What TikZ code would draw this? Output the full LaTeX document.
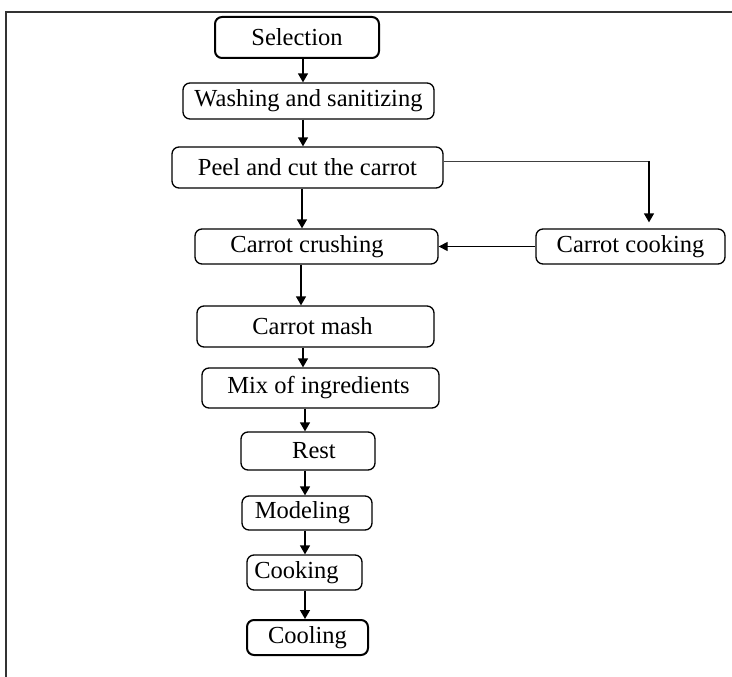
\documentclass[tikz,border=0pt]{standalone}
\usepackage{fontspec}
\setmainfont{Liberation Serif}
\usetikzlibrary{arrows.meta}
\begin{document}
\begin{tikzpicture}[x=1pt,y=-1pt,
  box/.style={draw, rounded corners=7pt, line width=1.3pt, inner sep=0pt,
    font=\fontsize{24.5}{28}\selectfont},
  thickbox/.style={box, line width=2pt},
  arr/.style={line width=1.5pt, -{Triangle[length=9pt,width=10pt]}},
  side/.style={line width=0.9pt, draw=black!75},
  back/.style={line width=1.1pt, -{Triangle[length=9pt,width=9pt]}},
  frame/.style={line width=1.2pt, draw=black!80}]
\useasboundingbox (0,0) rectangle (732,677);
\draw[frame] (6,677) -- (6,12) -- (732,12);

\node[thickbox, minimum width=164pt, minimum height=41pt] (sel) at (297,37.5) {Selection};
\node[box, minimum width=251pt, minimum height=36pt] (wash) at (308.5,101) {Washing and sanitizing};
\node[box, minimum width=271pt, minimum height=41pt] (peel) at (307.5,167.5) {Peel and cut the carrot};
\node[box, minimum width=243pt, minimum height=35pt] (crush) at (316.5,246.5) {Carrot crushing\hspace*{19pt}};
\node[box, minimum width=189pt, minimum height=35pt] (ccook) at (630.5,246.5) {Carrot cooking};
\node[box, minimum width=237pt, minimum height=41pt] (mash) at (315.5,326.5) {Carrot mash\hspace*{6pt}};
\node[box, minimum width=237pt, minimum height=40pt] (mix) at (320.5,388) {Mix of ingredients\hspace*{4pt}};
\node[box, minimum width=134pt, minimum height=38pt] (rest) at (308,451) {\hspace*{12pt}Rest};
\node[box, minimum width=130pt, minimum height=34pt] (model) at (307,513) {Modeling\hspace*{9pt}};
\node[box, minimum width=115pt, minimum height=35pt] (cook) at (304.5,572.5) {Cooking\hspace*{16pt}};
\node[thickbox, minimum width=121pt, minimum height=35pt] (cool) at (307.5,637.5) {Cooling};

\draw[arr] (sel.south -| 303,0) -- (wash.north -| 303,0);
\draw[arr] (wash.south -| 303,0) -- (peel.north -| 303,0);
\draw[arr] (peel.south -| 302,0) -- (crush.north -| 302,0);
\draw[arr] (crush.south -| 301,0) -- (mash.north -| 301,0);
\draw[arr] (mash.south -| 303,0) -- (mix.north -| 303,0);
\draw[arr] (mix.south -| 305,0) -- (rest.north -| 305,0);
\draw[arr] (rest.south -| 305,0) -- (model.north -| 305,0);
\draw[arr] (model.south -| 305,0) -- (cook.north -| 305,0);
\draw[arr] (cook.south -| 305,0) -- (cool.north -| 305,0);

\coordinate (bend) at (649,161);
\draw[side] (peel.east |- bend) -- (bend);
\draw[arr, shorten >=6pt] (bend) -- (ccook.north -| bend);
\draw[back] (ccook.west) -- (crush.east);
\end{tikzpicture}
\end{document}
